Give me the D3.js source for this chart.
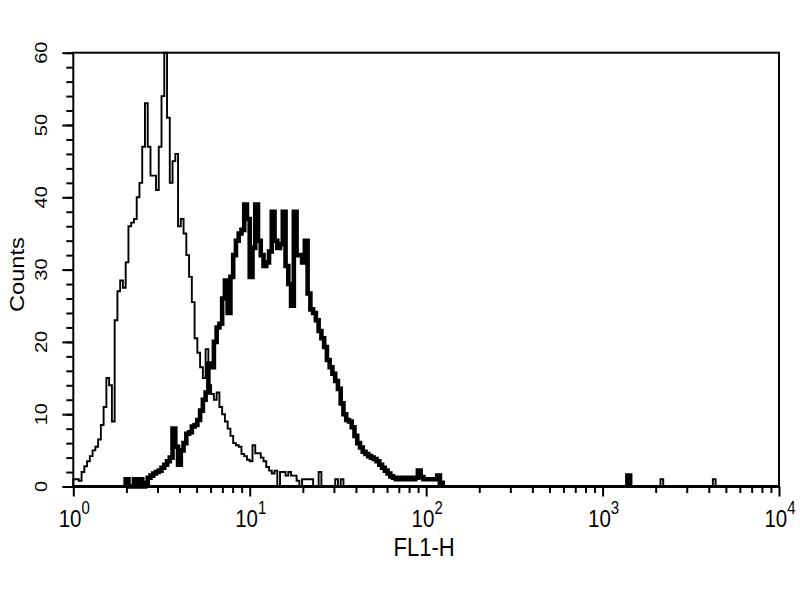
<!DOCTYPE html>
<html>
<head>
<meta charset="utf-8">
<script src="https://cdn.jsdelivr.net/npm/d3@7"></script>
<style>
  body { margin: 0; background: #fff; }
  svg { display: block; }
  text { font-family: "Liberation Sans", Arial, sans-serif; fill: #000; }
</style>
</head>
<body>
<svg id="chart" width="800" height="600"></svg>
<script>
// FL1-H histogram, 256 channels over 4 decades
const channelsPerDecade = 64;

// control (thin line), counts per channel starting at channel 0
const controlStart = 0;
const controlCounts = [
    1, 1, 0.8, 2, 2.8, 3.5, 4.2, 5, 5.5, 6.5,
    8.5, 11, 15, 14, 9, 23, 27, 28.5, 27.5, 31,
    36, 36.5, 37, 40, 42, 47, 53, 47, 43, 43,
    41, 47, 54, 60, 51, 42, 45, 46, 36, 37,
    35, 32, 29, 25.5, 20.5, 18.5, 16.5, 15, 19, 14,
    12.8, 12, 13, 11, 10, 9, 8, 7, 6, 5.7,
    5.5, 4.5, 4.2, 3.7, 3.5, 5.7, 4.6, 4.6, 4, 3.5,
    2.7, 2.2, 1.8, 2.2, 0, 2, 2, 1.5, 2, 1.5,
    1.5, 0.8, 0, 1, 1, 1, 1, 0, 0, 2,
    0, 0, 0, 0, 0, 1, 0, 1
];
// stray control events far up the scale [channel, count]
const controlStray = [[213, 1], [232, 1]];

// stained sample (thick line), counts per channel starting at channel 19
const stainedStart = 19;
const stainedCounts = [
    1, 0, 0, 1, 0, 1, 0, 0.5, 1.2, 1.5,
    1.8, 2, 2.2, 2.6, 3, 3.5, 4, 8, 5.5, 3,
    5, 6, 7.3, 7.5, 8.3, 8.5, 9.2, 10.5, 12, 13,
    17, 16.5, 20, 22, 22.5, 26, 28.5, 24, 29, 32,
    34, 35, 35.5, 39, 37, 29, 33, 39, 34, 32,
    30.5, 31, 32.5, 38, 34, 33, 33.5, 38, 30.5, 28,
    25, 38, 32, 32, 31, 34, 26.7, 24.5, 24, 23,
    21.5, 20.5, 19.3, 17.5, 16.5, 15.6, 14.6, 13.5, 11.5, 10,
    9.2, 9, 8.2, 7, 6, 5.4, 4.8, 4.5, 4.2, 4,
    3.8, 3.5, 3, 2.6, 2.2, 1.8, 1.4, 1.2, 1, 1.2,
    1, 1.2, 1, 1.2, 1, 1.2, 2.2, 1.3, 1, 1,
    1, 1, 1, 1.5, 0.5
];
const stainedStray = [[201, 1.5]];

// axes
const xDecades = [1, 10, 100, 1000, 10000];
const xExponents = ["0", "1", "2", "3", "4"];
const yMajorTicks = [0, 10, 20, 30, 40, 50, 60];
const yMinorTicks = d3.range(0, 61, 2);
const xMinorTicks = [];
xDecades.slice(0, 4).forEach(d => {
    for (let m = 2; m <= 9; m++) xMinorTicks.push(d * m);
});

const margin = {top: 52.7, right: 21, bottom: 113.5, left: 73.3};
const width = 800 - margin.left - margin.right,
    height = 600 - margin.top - margin.bottom;
const stretch = 1.18; // labels of the original look vertically stretched

const svg = d3.select("#chart")
    .append("g")
    .attr("transform", "translate(" + margin.left + "," + margin.top + ")");

const x = d3.scaleLog().domain([1, 10000]).range([0, width]);
const y = d3.scaleLinear().domain([0, 60]).range([height, 0]);

const fl1 = ch => Math.pow(10, ch / channelsPerDecade);

// build step points for one run of channel counts
function stepPoints(start, counts) {
    const pts = [{v: fl1(start), c: 0}];
    counts.forEach((c, i) => pts.push({v: fl1(start + i), c: c}));
    pts.push({v: fl1(start + counts.length), c: 0});
    return pts;
}

const stepLine = d3.line()
    .curve(d3.curveStepAfter)
    .x(d => x(d.v))
    .y(d => y(d.c));

function drawSeries(start, counts, stray, w) {
    const runs = [stepPoints(start, counts)];
    stray.forEach(s => runs.push(stepPoints(s[0], [s[1]])));
    svg.append("g").selectAll("path")
        .data(runs)
        .enter().append("path")
        .attr("d", stepLine)
        .attr("fill", "none")
        .attr("stroke", "#000")
        .attr("stroke-width", w)
        .attr("stroke-linejoin", "miter");
}

drawSeries(controlStart, controlCounts, controlStray, 1.9);
drawSeries(stainedStart, stainedCounts, stainedStray, 4.6);

// x axis ticks (minor and major)
const xMinor = svg.append("g")
    .attr("transform", "translate(0," + height + ")")
    .call(d3.axisBottom(x).tickValues(xMinorTicks).tickSize(6.5).tickFormat(""));
const xMajor = svg.append("g")
    .attr("transform", "translate(0," + height + ")")
    .call(d3.axisBottom(x).tickValues(xDecades).tickSize(10).tickFormat(""));

// y axis ticks (minor and major)
const yMinor = svg.append("g")
    .call(d3.axisLeft(y).tickValues(yMinorTicks).tickSize(7).tickFormat(""));
const yMajor = svg.append("g")
    .call(d3.axisLeft(y).tickValues(yMajorTicks).tickSize(11).tickFormat(""));

[xMinor, xMajor, yMinor, yMajor].forEach(g => {
    g.select(".domain").remove();
    g.selectAll(".tick line").attr("stroke", "#000").attr("stroke-width", 2);
});

// frame
svg.append("rect")
    .attr("width", width)
    .attr("height", height)
    .attr("fill", "none")
    .attr("stroke", "#000")
    .attr("stroke-width", 2);
svg.append("line")
    .attr("x1", 0).attr("x2", width)
    .attr("y1", height).attr("y2", height)
    .attr("stroke", "#000")
    .attr("stroke-width", 2.8);

// x tick labels as 10^n
xDecades.forEach((d, i) => {
    const t = svg.append("text")
        .attr("transform", "translate(" + (x(d) + 1) + "," + (height + 40.5) + ") scale(1," + stretch + ")")
        .attr("text-anchor", "middle")
        .style("font-size", "20.5px");
    t.append("tspan").text("10");
    t.append("tspan")
        .attr("dy", -11)
        .style("font-size", "15px")
        .text(xExponents[i]);
});

// y tick labels, rotated
yMajorTicks.forEach(v => {
    svg.append("text")
        .attr("transform", "translate(-26," + y(v) + ") scale(1," + stretch + ") rotate(-90)")
        .attr("text-anchor", "middle")
        .style("font-size", "17px")
        .text(v);
});

// axis titles
svg.append("text")
    .attr("transform", "translate(" + (x(100) - 2) + "," + (height + 69.5) + ") scale(1," + stretch + ")")
    .attr("text-anchor", "middle")
    .style("font-size", "22px")
    .text("FL1-H");

svg.append("text")
    .attr("transform", "translate(-49.5," + (y(30) + 5) + ") scale(1," + stretch + ") rotate(-90)")
    .attr("text-anchor", "middle")
    .style("font-size", "20px")
    .text("Counts");
</script>
</body>
</html>
